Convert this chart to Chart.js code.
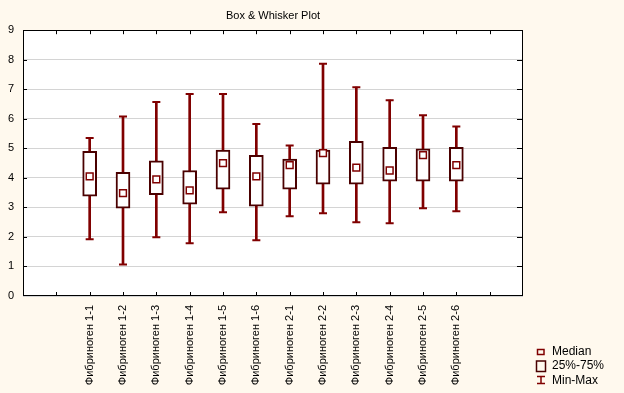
<!DOCTYPE html>
<html>
<head>
<meta charset="utf-8">
<title>Box & Whisker Plot</title>
<script src="https://cdn.jsdelivr.net/npm/chart.js@4.4.1/dist/chart.umd.min.js"></script>
<style>
  body { margin: 0; background: #fff9ee; }
  #wrap { width: 624px; height: 393px; }
</style>
</head>
<body>
<div id="wrap"><canvas id="myChart" width="624" height="393"></canvas></div>
<script>
// data
const categories = ['Фибриноген 1-1', 'Фибриноген 1-2', 'Фибриноген 1-3', 'Фибриноген 1-4', 'Фибриноген 1-5', 'Фибриноген 1-6',
                    'Фибриноген 2-1', 'Фибриноген 2-2', 'Фибриноген 2-3', 'Фибриноген 2-4', 'Фибриноген 2-5', 'Фибриноген 2-6'];
const minValues    = [1.92, 1.07, 1.99, 1.79, 2.84, 1.89, 2.70, 2.80, 2.50, 2.46, 2.97, 2.87];
const q1Values     = [3.38, 2.97, 3.43, 3.11, 3.62, 3.04, 3.62, 3.79, 3.79, 3.89, 3.89, 3.89];
const medianValues = [4.05, 3.48, 3.95, 3.58, 4.50, 4.05, 4.43, 4.84, 4.35, 4.25, 4.77, 4.43];
const q3Values     = [4.90, 4.19, 4.58, 4.25, 4.94, 4.76, 4.64, 4.94, 5.24, 5.03, 4.98, 5.03];
const maxValues    = [5.35, 6.08, 6.57, 6.84, 6.84, 5.82, 5.10, 7.86, 7.07, 6.63, 6.12, 5.74];
const yMin = 0;
const yMax = 9;
const legendLabels = ['Median', '25%-75%', 'Min-Max'];

// two empty slots on each side, like the original axis
const pad = ['', ''];
const labels = pad.concat(categories, pad);
const padNull = arr => [null, null].concat(arr, [null, null]);

const boxColor = '#4a0000';
const whiskerColor = '#800000';
const font = { family: 'Liberation Sans, Arial, sans-serif', size: 11 };

// backgrounds, frame, inward tick marks and the legend
const framePlugin = {
  id: 'frame',
  beforeDraw(chart) {
    const ctx = chart.ctx;
    const a = chart.chartArea;
    ctx.save();
    ctx.fillStyle = '#fff9ee';
    ctx.fillRect(0, 0, chart.width, chart.height);
    ctx.fillStyle = '#ffffff';
    ctx.fillRect(a.left, a.top, a.right - a.left, a.bottom - a.top);
    ctx.restore();
  },
  afterDraw(chart) {
    const ctx = chart.ctx;
    const a = chart.chartArea;
    const x = chart.scales.x;
    const y = chart.scales.y;
    ctx.save();
    ctx.strokeStyle = '#000';
    ctx.lineWidth = 1;
    ctx.strokeRect(Math.round(a.left) + 0.5, Math.round(a.top) + 0.5,
                   Math.round(a.right - a.left) - 1, Math.round(a.bottom - a.top) - 1);
    ctx.beginPath();
    for (let i = 1; i < labels.length - 1; i++) {
      const px = Math.round(x.getPixelForValue(i)) + 0.5;
      ctx.moveTo(px, a.top); ctx.lineTo(px, a.top + 4);
      ctx.moveTo(px, a.bottom); ctx.lineTo(px, a.bottom - 4);
    }
    for (let v = yMin + 1; v < yMax; v++) {
      const py = Math.round(y.getPixelForValue(v)) + 0.5;
      ctx.moveTo(a.left, py); ctx.lineTo(a.left + 4, py);
      ctx.moveTo(a.right, py); ctx.lineTo(a.right - 6, py);
    }
    ctx.stroke();

    // legend
    ctx.font = '12px Liberation Sans, Arial, sans-serif';
    ctx.fillStyle = '#000';
    ctx.textBaseline = 'middle';
    ctx.lineWidth = 1.5;
    ctx.strokeStyle = whiskerColor;
    ctx.strokeRect(537.5, 349.5, 6.5, 5);
    ctx.fillText(legendLabels[0], 552, 352);
    ctx.strokeStyle = boxColor;
    ctx.strokeRect(536.5, 361, 9, 10.5);
    ctx.fillText(legendLabels[1], 552, 366);
    ctx.strokeStyle = whiskerColor;
    ctx.beginPath();
    ctx.moveTo(541, 376); ctx.lineTo(541, 384);
    ctx.moveTo(537, 376.5); ctx.lineTo(545, 376.5);
    ctx.moveTo(537, 383.5); ctx.lineTo(545, 383.5);
    ctx.stroke();
    ctx.fillText(legendLabels[2], 552, 381);
    ctx.restore();
  }
};

const myChart = document.getElementById('myChart');

let boxChart = new Chart(myChart, {
  type: 'bar',
  data: {
    labels: labels,
    datasets: [
      {
        // median marker
        type: 'line',
        data: padNull(medianValues),
        showLine: false,
        pointStyle: 'rect',
        pointRadius: 4.8,
        pointBorderWidth: 1.5,
        pointBorderColor: whiskerColor,
        pointBackgroundColor: '#ffffff',
        order: 0
      },
      {
        // whisker caps (max)
        type: 'line',
        data: padNull(maxValues),
        showLine: false,
        pointStyle: 'line',
        pointRadius: 4,
        pointBorderWidth: 2,
        pointBorderColor: whiskerColor,
        order: 1
      },
      {
        // whisker caps (min)
        type: 'line',
        data: padNull(minValues),
        showLine: false,
        pointStyle: 'line',
        pointRadius: 4,
        pointBorderWidth: 2,
        pointBorderColor: whiskerColor,
        order: 1
      },
      {
        // 25%-75% box
        data: padNull(q1Values.map((q, i) => [q, q3Values[i]])),
        backgroundColor: '#ffffff',
        borderColor: boxColor,
        borderWidth: 2,
        borderSkipped: false,
        barThickness: 14,
        grouped: false,
        order: 2
      },
      {
        // min-max whisker line
        data: padNull(minValues.map((m, i) => [m, maxValues[i]])),
        backgroundColor: whiskerColor,
        borderWidth: 0,
        barThickness: 2,
        grouped: false,
        order: 3
      }
    ]
  },
  options: {
    responsive: false,
    animation: false,
    events: [],
    layout: { padding: { left: 0, right: 101, top: 0, bottom: 0 } },
    plugins: {
      legend: { display: false },
      tooltip: { enabled: false },
      title: {
        display: true,
        text: 'Box & Whisker Plot',
        fullSize: false,
        color: '#000',
        font: { family: font.family, size: 11, weight: 'normal' },
        padding: { top: 9, bottom: 8 }
      }
    },
    scales: {
      x: {
        type: 'category',
        offset: false,
        grid: { display: false, drawTicks: false },
        border: { display: false },
        ticks: {
          autoSkip: false,
          maxRotation: 90,
          minRotation: 90,
          padding: 9,
          color: '#000',
          font: font
        },
        afterFit(scale) { scale.height = 97; }
      },
      y: {
        min: yMin,
        max: yMax,
        grid: { color: '#d4d4d4', drawTicks: false },
        border: { display: false },
        ticks: { stepSize: 1, padding: 9, color: '#000', font: font },
        afterFit(scale) { scale.width = 23; }
      }
    }
  },
  plugins: [framePlugin]
});
</script>
</body>
</html>
